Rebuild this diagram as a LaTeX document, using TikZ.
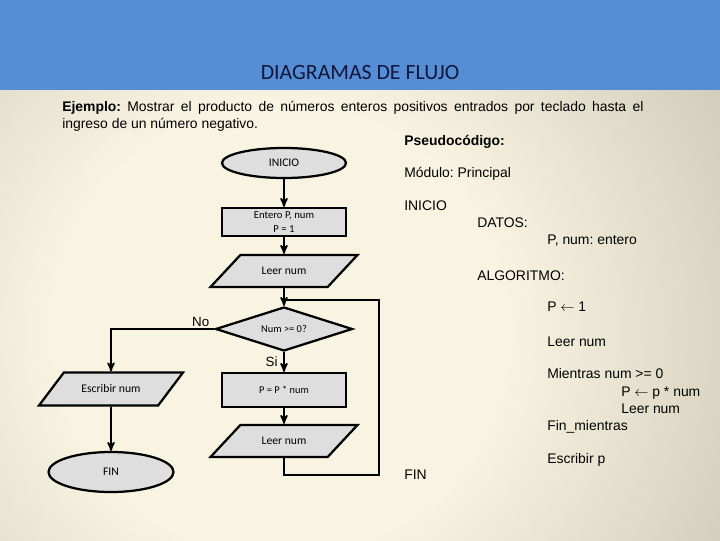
\documentclass[tikz,border=0pt]{standalone}
\usepackage{fontspec}
\setmainfont{Liberation Sans}
\newfontfamily\calfont{Carlito}
\usetikzlibrary{arrows,shapes.geometric,calc}
\definecolor{band}{RGB}{85,142,213}
\definecolor{cream}{RGB}{249,244,226}
\definecolor{drab}{RGB}{148,145,126}
\definecolor{boxfill}{RGB}{222,222,222}
\definecolor{titleink}{RGB}{18,22,58}
\pgfdeclareradialshading{slide}{\pgfpoint{0bp}{0bp}}{color(0bp)=(cream); color(12bp)=(cream); color(50bp)=(drab)}
\frenchspacing
\tikzset{
    term/.style =   {ellipse,
                    fill=boxfill,
                    draw=black,
                    line width=1.6pt,
                    inner sep=0pt,
                    font=\calfont\fontsize{8.3}{10}\selectfont},
    proc/.style =   {rectangle,
                    fill=boxfill,
                    draw=black,
                    line width=1.6pt,
                    inner sep=0pt,
                    align=center,
                    minimum width=3.1cm,
                    font=\calfont\fontsize{7.6}{9.5}\selectfont},
    io/.style =     {trapezium,
                    trapezium stretches body=true,
                    fill=boxfill,
                    draw=black,
                    line width=1.6pt,
                    inner sep=0pt,
                    font=\calfont\fontsize{8.3}{10}\selectfont},
    ask/.style =    {diamond,
                    aspect=3,
                    fill=boxfill,
                    draw=black,
                    line width=1.6pt,
                    inner sep=0pt,
                    minimum width=3.425cm,
                    minimum height=1.1cm,
                    font=\calfont\fontsize{7.4}{9}\selectfont},
    code/.style =   {anchor=base west,
                    inner sep=0pt,
                    font=\fontsize{9.9}{12}\selectfont},
    lbl/.style =    {inner sep=1pt,
                    font=\fontsize{9.5}{11}\selectfont},
    link/.style =   {draw=black,
                    very thick},
    >=stealth'}

\begin{document}
\begin{tikzpicture}[x=0.025cm,y=-0.025cm]
    \useasboundingbox (0,0) rectangle (720,540);
    % fondo
    \begin{scope}
        \clip (0,90) rectangle (720,540);
        \shade[shading=slide] (-190,-140) rectangle (750,800);
    \end{scope}
    \fill[band] (0,0) rectangle (720,90);
    \node[anchor=base, inner sep=0pt, text=titleink,
          font=\calfont\fontsize{15.5}{18}\selectfont] (titulo) at (360,79) {DIAGRAMAS DE FLUJO};
    \node[anchor=north west, inner sep=0pt, text width=14.525cm, align=justify,
          font=\fontsize{9.9}{12}\selectfont] (ejemplo) at (62,101)
        {\hyphenpenalty=10000 \textbf{Ejemplo:} Mostrar el producto de números enteros positivos entrados por teclado hasta el\linebreak ingreso de un número negativo.};

    % diagrama
    \node[term, minimum width=3.1cm, minimum height=0.75cm]     (inicio) at (284,163) {INICIO};
    \node[proc, minimum height=0.7cm]                            (datos)  at (284,222) {Entero P, num\\P = 1};
    \node[io, trapezium left angle=47, trapezium right angle=133,
          text height=14.1pt, text depth=8.7pt,
          minimum width=3.675cm]                                 (leer1)  at (284,271) {Leer num};
    \node[ask]                                                   (cond)   at (284,329) {Num >= 0?};
    \node[proc, minimum height=0.85cm, font=\calfont\fontsize{7.4}{9}\selectfont] (prod) at (284,390) {P = P * num};
    \node[io, trapezium left angle=47, trapezium right angle=133,
          text height=14.1pt, text depth=8.7pt,
          minimum width=3.675cm]                                 (leer2)  at (284,441) {Leer num};
    \node[io, trapezium left angle=53, trapezium right angle=127,
          text height=14.4pt, text depth=9.1pt,
          minimum width=3.6cm]                                   (escr)   at (111,389) {Escribir num};
    \node[term, minimum width=3.125cm, minimum height=1cm]       (fin)    at (111,472) {FIN};
    \coordinate (union) at (284,300);
    \coordinate (vuelta) at (379,475);

    \path [link,->] (inicio) edge (datos)
                    (datos)  edge (leer1)
                    (leer1)  edge (cond)
                    (prod)   edge (leer2)
                    (escr)   edge (fin);
    \draw [link,->] (cond) -- (prod) node [lbl, midway, left, xshift=-3pt] {Si};
    \draw [link,->] (cond.west) -| (escr.north) node [lbl, pos=0, above left, xshift=-2pt] {No};
    \draw [link] (leer2.south) |- (vuelta) |- (union);

    % pseudocodigo
    \node[code, font=\bfseries\fontsize{9.9}{12}\selectfont] (pseudo) at (404,145) {Pseudocódigo:};
    \node[code] (modulo)   at (404,177) {Módulo: Principal};
    \node[code] (pinicio)  at (404,210) {INICIO};
    \node[code] (pdatos)   at (477,227) {DATOS:};
    \node[code] (ptipo)    at (547,244) {P, num: entero};
    \node[code] (palgo)    at (477,280) {ALGORITMO:};
    \node[code] (pasig)    at (547,311) {P $\leftarrow$ 1};
    \node[code] (pleer1)   at (547,346) {Leer num};
    \node[code] (pmien)    at (547,378) {Mientras num >= 0};
    \node[code] (pprod)    at (621,396) {P $\leftarrow$ p * num};
    \node[code] (pleer2)   at (621,413) {Leer num};
    \node[code] (pfinm)    at (547,430) {Fin\_mientras};
    \node[code] (pescr)    at (547,463) {Escribir p};
    \node[code] (pfin)     at (404,479) {FIN};
\end{tikzpicture}
\end{document}
